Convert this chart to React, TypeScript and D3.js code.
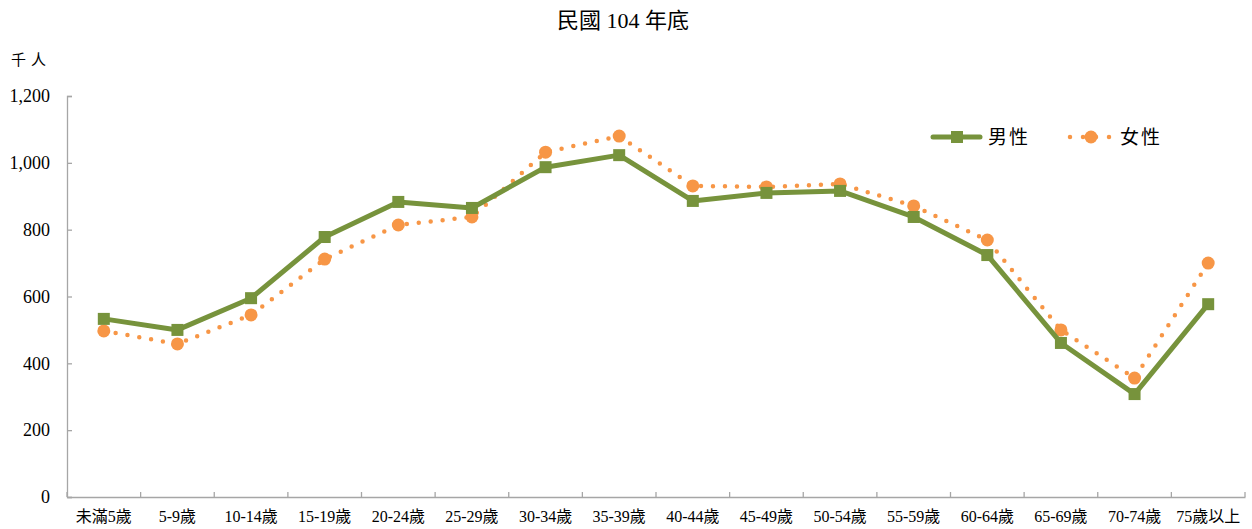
import { useEffect, useRef } from "react";
import * as d3 from "d3";

const categories = [
  "未滿5歲", "5-9歲", "10-14歲", "15-19歲", "20-24歲", "25-29歲", "30-34歲", "35-39歲",
  "40-44歲", "45-49歲", "50-54歲", "55-59歲", "60-64歲", "65-69歲", "70-74歲", "75歲以上",
];
const male = [533, 500, 595, 778, 883, 865, 987, 1023, 886, 910, 916, 838, 724, 461, 308, 577];
const female = [497, 458, 545, 712, 814, 838, 1032, 1080, 931, 928, 937, 871, 769, 500, 356, 700];
const yTicks = [0, 200, 400, 600, 800, 1000, 1200];

const GREEN = "#77933c";
const ORANGE = "#f79646";
const NUM_FONT = "'Liberation Serif', 'Times New Roman', serif";
const CJK_FONT = "'Liberation Serif', 'Noto Sans CJK TC', serif";

const W = 1252;
const H = 529;
const margin = { left: 67, right: 7, top: 96, bottom: 32 };

const App = () => {
  const svgRef = useRef<SVGSVGElement | null>(null);

  useEffect(() => {
    const svg = d3.select(svgRef.current);
    svg.selectAll("*").remove();

    const x = d3
      .scaleBand<string>()
      .domain(categories)
      .range([margin.left, W - margin.right]);
    const y = d3
      .scaleLinear()
      .domain([0, 1200])
      .range([H - margin.bottom, margin.top]);

    // title
    svg
      .append("text")
      .attr("x", 623)
      .attr("y", 28)
      .attr("text-anchor", "middle")
      .style("font-family", CJK_FONT)
      .style("font-size", "22px")
      .text("民國 104 年底");

    svg
      .append("text")
      .attr("x", 11)
      .attr("y", 65)
      .style("font-family", CJK_FONT)
      .style("font-size", "15px")
      .style("letter-spacing", "5px")
      .text("千人");

    // y axis
    const yAxis = svg
      .append("g")
      .attr("transform", `translate(${margin.left},0)`)
      .call(
        d3
          .axisLeft(y)
          .tickValues(yTicks)
          .tickSize(-5)
          .tickPadding(17)
          .tickFormat((d) => d3.format(",")(d as number))
      );
    yAxis.selectAll("path, line").attr("stroke", "#a6a6a6").attr("stroke-width", 1.3);
    yAxis
      .selectAll("text")
      .style("font-family", NUM_FONT)
      .style("font-size", "18px")
      .attr("fill", "#000");

    // x axis
    const xAxis = svg
      .append("g")
      .attr("transform", `translate(0,${H - margin.bottom})`)
      .call(d3.axisBottom(x).tickSize(0).tickPadding(14));
    xAxis.select("path").attr("stroke", "#a6a6a6").attr("stroke-width", 1.3);
    xAxis
      .selectAll("text")
      .style("font-family", CJK_FONT)
      .style("font-size", "16px")
      .attr("fill", "#000");

    // category separator ticks
    const bounds = d3.range(categories.length + 1).map((i) => margin.left + i * x.bandwidth());
    svg
      .append("g")
      .selectAll("line")
      .data(bounds)
      .enter()
      .append("line")
      .attr("x1", (d) => d)
      .attr("x2", (d) => d)
      .attr("y1", H - margin.bottom)
      .attr("y2", H - margin.bottom - 5)
      .attr("stroke", "#a6a6a6")
      .attr("stroke-width", 1.3);

    const cx = (i: number) => (x(categories[i]) as number) + x.bandwidth() / 2;
    const line = d3
      .line<number>()
      .x((d, i) => cx(i))
      .y((d) => y(d));

    // female dotted line
    svg
      .append("path")
      .datum(female)
      .attr("d", line)
      .attr("fill", "none")
      .attr("stroke", ORANGE)
      .attr("stroke-width", 4.5)
      .attr("stroke-linecap", "round")
      .attr("stroke-dasharray", "0 12");

    svg
      .append("g")
      .selectAll("circle")
      .data(female)
      .enter()
      .append("circle")
      .attr("cx", (d, i) => cx(i))
      .attr("cy", (d) => y(d))
      .attr("r", 6.5)
      .attr("fill", ORANGE);

    // male solid line
    svg
      .append("path")
      .datum(male)
      .attr("d", line)
      .attr("fill", "none")
      .attr("stroke", GREEN)
      .attr("stroke-width", 5)
      .attr("stroke-linejoin", "round");

    svg
      .append("g")
      .selectAll("rect")
      .data(male)
      .enter()
      .append("rect")
      .attr("x", (d, i) => cx(i) - 6)
      .attr("y", (d) => y(d) - 6)
      .attr("width", 12)
      .attr("height", 12)
      .attr("fill", GREEN);

    // legend
    const lg = svg.append("g");
    lg.append("line")
      .attr("x1", 933).attr("x2", 980).attr("y1", 137).attr("y2", 137)
      .attr("stroke", GREEN).attr("stroke-width", 5).attr("stroke-linecap", "round");
    lg.append("rect")
      .attr("x", 951).attr("y", 131).attr("width", 12).attr("height", 12).attr("fill", GREEN);
    lg.append("text")
      .attr("x", 988).attr("y", 144)
      .style("font-family", CJK_FONT).style("font-size", "19px").style("letter-spacing", "2px")
      .text("男性");
    lg.append("line")
      .attr("x1", 1070).attr("x2", 1110).attr("y1", 137).attr("y2", 137)
      .attr("stroke", ORANGE).attr("stroke-width", 4.5).attr("stroke-linecap", "round")
      .attr("stroke-dasharray", "0 13");
    lg.append("circle").attr("cx", 1091).attr("cy", 137).attr("r", 6.5).attr("fill", ORANGE);
    lg.append("text")
      .attr("x", 1120).attr("y", 144)
      .style("font-family", CJK_FONT).style("font-size", "19px").style("letter-spacing", "2px")
      .text("女性");
  }, []);

  return (
    <svg
      ref={svgRef}
      width={W}
      height={H}
      style={{ position: "absolute", left: 0, top: 0, background: "#fff" }}
    />
  );
};

export default App;
